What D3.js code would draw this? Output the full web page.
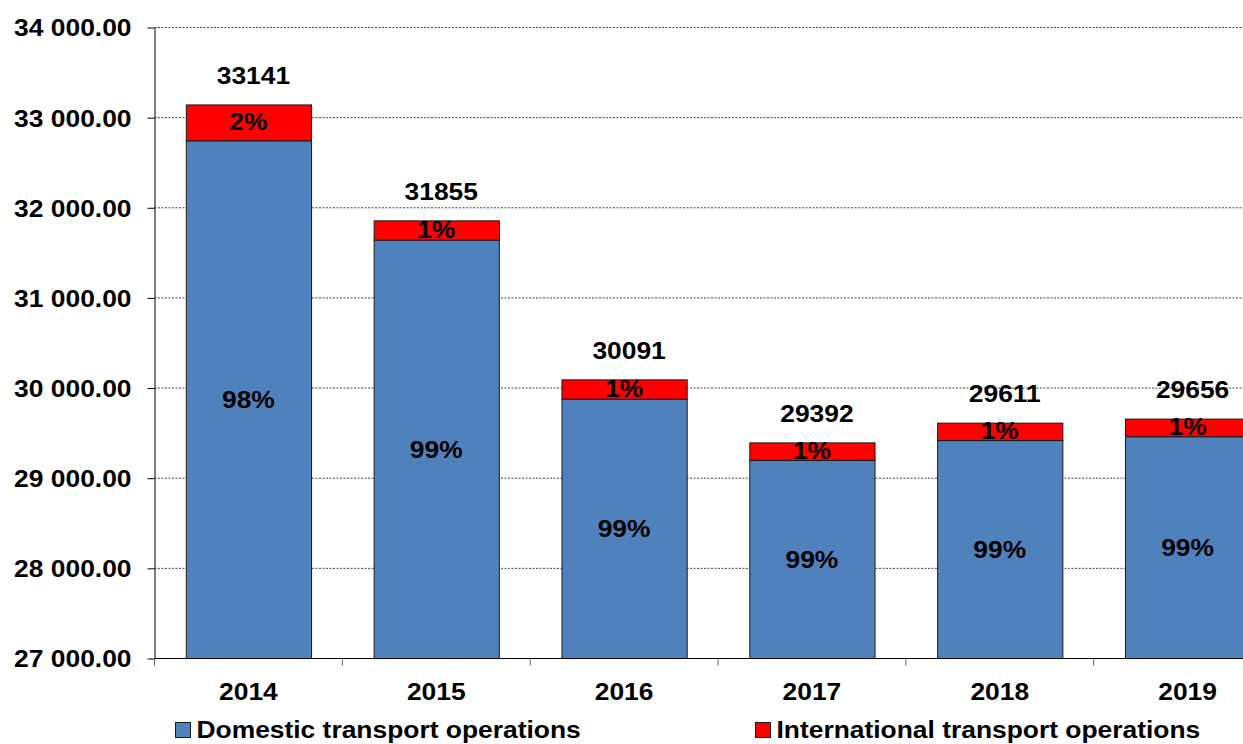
<!DOCTYPE html>
<html>
<head>
<meta charset="utf-8">
<script src="https://cdn.jsdelivr.net/npm/d3@7"></script>
<style>
  body { margin: 0; background: #fff; }
  svg { display: block; }
  text { font-family: Arial, "Liberation Sans", sans-serif; font-weight: bold; font-size: 24px; fill: #000; }
</style>
</head>
<body>
<div class="chart"></div>
<script>
// values
const years = ["2014", "2015", "2016", "2017", "2018", "2019"];
const domestic = [32743, 31641, 29877, 29197, 29418, 29460];
const international = [398, 214, 214, 195, 193, 196];
const domesticPct = ["98%", "99%", "99%", "99%", "99%", "99%"];
const internationalPct = ["2%", "1%", "1%", "1%", "1%", "1%"];
const yTicks = [27000, 28000, 29000, 30000, 31000, 32000, 33000, 34000];
const seriesNames = ["Domestic transport operations", "International transport operations"];
const colors = ["#4F81BD", "#FF0000"];

const W = 1243, H = 744;
const SX = 1.1; // text in the picture is a bit wider than plain Arial

const rows = years.map((year, i) => ({
    year,
    dom: domestic[i],
    intl: international[i],
    total: domestic[i] + international[i],
    domPct: domesticPct[i],
    intlPct: internationalPct[i]
}));

const svg = d3.select(".chart")
    .append("svg")
        .attr("width", W)
        .attr("height", H);

// plot runs past the right edge, like the original
const x = d3.scaleBand()
    .domain(years)
    .range([154.5, 1281.5])
    .paddingInner(1 / 3)
    .paddingOuter(1 / 6);

const y = d3.scaleLinear()
    .domain([27000, 34000])
    .range([658.5, 27.5]);

const fmt = d3.formatLocale({ decimal: ".", thousands: " ", grouping: [3], currency: ["", ""] }).format(",.2f");

// dotted grid
svg.append("g")
    .selectAll("line")
    .data(yTicks.slice(1))
    .join("line")
        .attr("x1", x.range()[0])
        .attr("x2", W)
        .attr("y1", d => y(d))
        .attr("y2", d => y(d))
        .attr("stroke", "#444")
        .attr("stroke-dasharray", "2,1.5");

// stacked bars
const bars = svg.append("g");
bars.selectAll("rect.dom")
    .data(rows)
    .join("rect")
        .attr("class", "dom")
        .attr("x", d => x(d.year) + 0.5)
        .attr("y", d => y(d.dom))
        .attr("width", x.bandwidth())
        .attr("height", d => y(27000) - y(d.dom))
        .attr("fill", colors[0])
        .attr("stroke", "#1a1a1a");

bars.selectAll("rect.intl")
    .data(rows)
    .join("rect")
        .attr("class", "intl")
        .attr("x", d => x(d.year) + 0.5)
        .attr("y", d => y(d.total))
        .attr("width", x.bandwidth())
        .attr("height", d => y(d.dom) - y(d.total))
        .attr("fill", colors[1])
        .attr("stroke", "#1a1a1a");

// y axis
const yAxis = svg.append("g")
    .attr("transform", `translate(${x.range()[0]},0)`)
    .call(d3.axisLeft(y).tickValues(yTicks).tickSize(7).tickSizeOuter(0).tickFormat(fmt));
yAxis.select(".domain").attr("stroke", "#000");
yAxis.selectAll(".tick line").attr("stroke", "#000");
yAxis.selectAll(".tick text")
    .attr("x", null)
    .attr("dy", "0.35em")
    .attr("font-size", null)
    .attr("font-family", null)
    .attr("transform", `translate(-23,0) scale(${SX},1)`);
yAxis.attr("font-size", null).attr("font-family", null);

// x axis: baseline, ticks between categories, labels in the middle
const step = x.step();
const x0 = x.range()[0];
svg.append("line")
    .attr("x1", x0).attr("x2", W)
    .attr("y1", y(27000)).attr("y2", y(27000))
    .attr("stroke", "#000");

svg.append("g")
    .selectAll("line")
    .data(d3.range(years.length + 1))
    .join("line")
        .attr("x1", i => x0 + i * step)
        .attr("x2", i => x0 + i * step)
        .attr("y1", y(27000))
        .attr("y2", y(27000) + 7)
        .attr("stroke", "#666");

const label = (sel, tx, ty) => sel
    .attr("text-anchor", "middle")
    .attr("transform", (d, i) => `translate(${tx(d, i)},${ty(d, i)}) scale(${SX},1)`);

svg.append("g")
    .selectAll("text")
    .data(years)
    .join("text")
        .text(d => d)
        .call(label, d => x(d) + x.bandwidth() / 2, () => y(27000) + 41);

// data labels
const mid = d => x(d.year) + x.bandwidth() / 2;
svg.append("g")
    .selectAll("text")
    .data(rows)
    .join("text")
        .text(d => d.domPct)
        .call(label, mid, d => (y(d.dom) + y(27000)) / 2 + 8.5);

svg.append("g")
    .selectAll("text")
    .data(rows)
    .join("text")
        .text(d => d.intlPct)
        .call(label, mid, d => (y(d.total) + y(d.dom)) / 2 + 7);

svg.append("g")
    .selectAll("text")
    .data(rows)
    .join("text")
        .text(d => d.total)
        .call(label, d => mid(d) + 5, d => y(d.total) - 21);

// legend
const legend = svg.append("g")
    .selectAll("g")
    .data(seriesNames)
    .join("g")
        .attr("transform", (d, i) => `translate(${[175.5, 755.5][i]},722.5)`);
legend.append("rect")
    .attr("width", 15)
    .attr("height", 15)
    .attr("fill", (d, i) => colors[i])
    .attr("stroke", "#1a1a1a");
legend.append("text")
    .text(d => d)
    .attr("transform", `translate(21,15) scale(${SX},1)`);
</script>
</body>
</html>
